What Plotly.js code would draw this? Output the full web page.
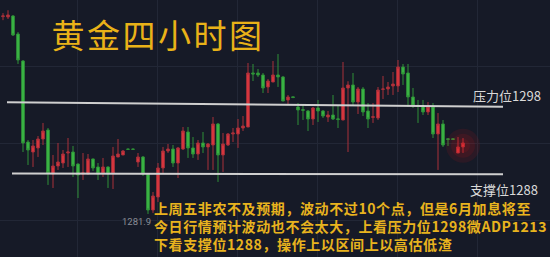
<!DOCTYPE html>
<html>
<head>
<meta charset="utf-8">
<script src="https://cdn.plot.ly/plotly-3.0.1.min.js"></script>
<style>html,body{margin:0;padding:0;background:#161a27;}#chart{width:550px;height:257px;}</style>
</head>
<body>
<div id="chart"></div>
<script>
// ---- data (gold, 4-hour candles) ----
const open = [1310.1,1310.05,1310.19,1307.65,1303.85,1292.44,1291.03,1291.60,1292.86,1294.13,
1287.93,1289.06,1289.48,1290.89,1291.03,1289.34,1287.93,1287.93,1290.05,1288.92,
1288.08,1288.92,1288.08,1290.33,1290.61,1291.45,1291.45,1289.62,1290.33,1287.93,
1282.86,1284.69,1288.78,1291.17,1291.45,1289.48,1291.45,1293.85,1291.60,1290.75,
1292.30,1291.74,1292.02,1294.98,1290.61,1292.02,1293.57,1293.57,1294.41,1294.55,
1302.16,1302.16,1301.88,1300.19,1300.89,1301.88,1301.60,1298.36,1298.8,1297.37,
1297.0,1296.81,1295.68,1297.23,1296.81,1295.96,1296.24,1295.7,1295.54,1300.05,
1300.47,1298.07,1299.91,1296.81,1295.9,1295.82,1299.85,1299.91,1300.33,1300.33,
1303.00,1302.16,1298.78,1297.6,1297.51,1296.67,1297.37,1293.57,1294.98,1292.9,
1292.9,1290.89,1291.74];
const high = [1310.6,1311.0,1310.33,1307.93,1303.99,1292.72,1292.72,1293.28,1295.12,1294.41,
1290.61,1292.30,1291.31,1293.00,1291.88,1289.4,1290.89,1290.75,1290.1,1289.48,
1290.19,1289.0,1291.74,1292.86,1291.31,1291.5,1291.5,1290.89,1290.47,1287.93,
1285.40,1289.48,1291.74,1292.16,1292.02,1291.74,1294.55,1294.55,1293.14,1292.72,
1293.85,1292.3,1295.96,1295.12,1293.71,1293.71,1294.41,1295.68,1296.10,1303.57,
1303.43,1302.72,1302.16,1301.31,1303.85,1304.83,1301.74,1299.06,1298.8,1297.93,
1297.65,1296.95,1297.37,1298.36,1296.95,1296.81,1299.06,1297.65,1303.71,1301.0,
1302.16,1300.19,1300.19,1297.93,1297.93,1300.19,1301.74,1300.89,1302.30,1303.99,
1303.43,1303.43,1300.05,1298.36,1298.36,1298.07,1297.93,1296.52,1295.54,1292.9,
1292.9,1293.14,1293.00];
const low = [1309.6,1309.76,1307.37,1303.43,1291.03,1289.20,1288.92,1290.33,1292.02,1286.39,
1285.96,1288.50,1288.78,1288.92,1287.51,1284.55,1287.09,1287.9,1288.36,1287.09,
1287.51,1285.96,1285.82,1290.3,1290.6,1291.4,1291.4,1288.92,1287.65,1282.30,
1282.44,1283.99,1288.08,1290.89,1288.92,1287.37,1291.31,1290.19,1290.19,1289.91,
1290.89,1288.50,1288.50,1286.81,1288.22,1291.88,1292.44,1291.60,1293.99,1294.55,
1301.03,1301.60,1299.34,1299.34,1300.89,1300.19,1298.2,1297.79,1298.7,1294.83,
1295.54,1293.99,1294.83,1295.26,1295.82,1295.26,1295.54,1294.41,1295.5,1291.03,
1297.65,1296.38,1296.10,1294.41,1295.12,1295.54,1298.50,1299.06,1299.06,1299.48,
1300.47,1297.37,1297.23,1295.12,1296.24,1296.24,1293.00,1288.50,1291.74,1291.88,
1292.8,1290.89,1290.89];
const close = [1310.2,1310.33,1307.51,1303.99,1292.30,1291.31,1291.88,1292.86,1293.99,1288.08,
1289.06,1289.62,1290.75,1291.03,1289.06,1287.79,1288.08,1290.05,1288.78,1287.93,
1288.92,1287.93,1290.47,1290.75,1291.17,1291.4,1291.4,1290.33,1287.93,1282.86,
1284.83,1288.78,1291.17,1291.45,1289.48,1291.60,1293.99,1291.60,1290.75,1292.30,
1291.74,1292.16,1294.98,1290.61,1292.16,1293.57,1293.71,1294.41,1294.69,1302.16,
1302.02,1301.88,1300.05,1301.03,1301.88,1301.60,1298.21,1298.78,1298.7,1296.95,
1296.9,1295.68,1297.23,1296.81,1296.10,1296.24,1295.68,1295.6,1300.05,1300.47,
1298.07,1299.91,1296.67,1295.68,1296.0,1299.76,1299.91,1300.19,1300.61,1303.00,
1302.02,1298.78,1297.51,1297.5,1296.67,1297.37,1293.57,1294.98,1292.02,1292.8,
1292.8,1291.74,1292.30];

// drawn levels (endpoints of the two hand-drawn lines)
const levelX = [0.8, 100];
const resistance = [1298.05, 1297.40];
const supportX = [1.8, 100];
const support = [1288.0, 1287.89];
const resistanceLabel = "压力位1298";
const supportLabel = "支撑位1288";
const lowLabel = "1281.9";
const titleText = "黄金四小时图";
const noteLines = [
  "上周五非农不及预期，波动不过10个点，但是6月加息将至",
  "今日行情预计波动也不会太大，上看压力位1298微ADP1213",
  "下看支撑位1288，操作上以区间上以高估低渣"
];

const xs = open.map((_, i) => i);
const last = open.length - 1;

const traces = [
  {type:'scatter', mode:'lines', x: levelX, y: resistance, line:{color:'#cfcfcf', width:2}, hoverinfo:'skip', showlegend:false},
  {type:'scatter', mode:'lines', x: supportX, y: support, line:{color:'#cfcfcf', width:2}, hoverinfo:'skip', showlegend:false},
  {type:'scatter', mode:'markers', x:[last,last,last], y:[close[last]-0.4,close[last]-0.4,close[last]-0.4],
   marker:{size:[34,24,14], color:'rgba(255,20,20,0.13)', line:{width:0}}, hoverinfo:'skip', showlegend:false},
  {type:'candlestick', x: xs, open: open, high: high, low: low, close: close,
   increasing:{line:{color:'#a8303a', width:1}, fillcolor:'#e0383f'},
   decreasing:{line:{color:'#2f9038', width:1}, fillcolor:'#3dbb47'},
   whiskerwidth:0, hoverinfo:'skip', showlegend:false}
];

const layout = {
  width:550, height:257,
  margin:{l:0,r:0,t:0,b:0},
  paper_bgcolor:'#161a27', plot_bgcolor:'#161a27',
  showlegend:false,
  boxgap:0.25,
  xaxis:{range:[-0.6,109.4], showticklabels:false, zeroline:false, showline:false,
         showgrid:true, gridcolor:'#222736', gridwidth:1, tick0:14.8, dtick:16,
         rangeslider:{visible:false}, fixedrange:true},
  yaxis:{range:[1276.24,1312.44], showticklabels:false, zeroline:false, showline:false,
         showgrid:true, gridcolor:'#222736', gridwidth:1, tick0:1292.16, dtick:10.845, fixedrange:true},
  annotations:[
    {xref:'paper', yref:'paper', x:57/550, y:1-34/257, xanchor:'left', yanchor:'middle', showarrow:false,
     text:titleText, font:{family:'Noto Sans CJK SC', size:33, color:'#e9b218'}},
    {xref:'paper', yref:'paper', x:471/550, y:1-95/257, xanchor:'left', yanchor:'middle', showarrow:false,
     text:resistanceLabel, font:{family:'Noto Sans CJK SC', size:13, color:'#dadada'}},
    {xref:'paper', yref:'paper', x:468/550, y:1-189/257, xanchor:'left', yanchor:'middle', showarrow:false,
     text:supportLabel, font:{family:'Noto Sans CJK SC', size:13, color:'#dadada'}},
    {xref:'paper', yref:'paper', x:120/550, y:1-221.5/257, xanchor:'left', yanchor:'middle', showarrow:false,
     text:lowLabel, font:{family:'Roboto', size:9.5, color:'#8a8e96'}},
    {xref:'paper', yref:'paper', x:152/550, y:1-226/257, xanchor:'left', yanchor:'middle', align:'left', showarrow:false,
     text:noteLines.join('<br>'), font:{family:'Noto Sans CJK SC', size:14, color:'#e8b31e', weight:'bold'}}
  ]
};

Plotly.newPlot('chart', traces, layout, {staticPlot:true, displayModeBar:false}).then(function(){
  document.querySelectorAll('#chart text.annotation-text').forEach(function(t){
    const s = t.textContent;
    if (s.indexOf(titleText) === 0) t.style.letterSpacing = '2.5px';
    else if (s.indexOf(noteLines[0].slice(0,3)) === 0) t.style.letterSpacing = '0.6px';
  });
});
</script>
</body>
</html>
